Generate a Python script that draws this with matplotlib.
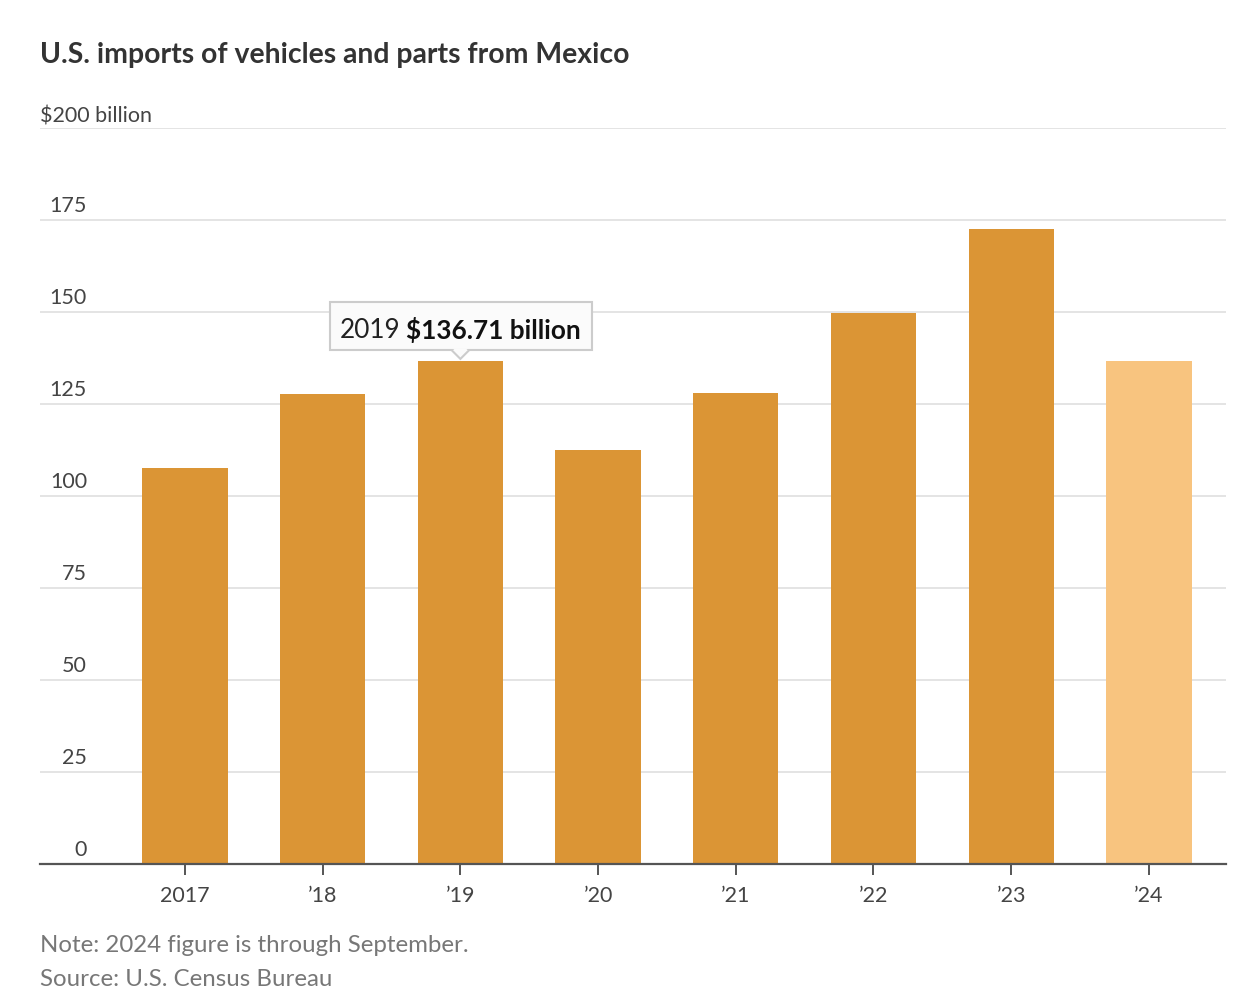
import matplotlib
matplotlib.use('Agg')
import matplotlib.pyplot as plt
from matplotlib import transforms
from matplotlib.patches import Rectangle, Polygon

# Podaci (procijenjeni sa slike)
godine = ['2017', '\u201918', '\u201919', '\u201920', '\u201921', '\u201922', '\u201923', '\u201924']
vrijednosti = [107.5, 127.6, 136.71, 112.4, 128.1, 149.8, 172.5, 136.6]
boje = ['#DB9535'] * 7 + ['#F8C47F']
y_ticks = [0, 25, 50, 75, 100, 125, 150, 175, 200]

plt.rcParams['font.family'] = ['Lato', 'DejaVu Sans']

fig = plt.figure(figsize=(12.48, 10.08), dpi=100)
ax = fig.add_axes([40 / 1248, 144 / 1008, 1186 / 1248, 736 / 1008])

x = list(range(len(godine)))
ax.bar(x, vrijednosti, width=0.62, color=boje, zorder=2)

ax.set_ylim(0, 200)
ax.set_xlim(-1.053, 7.56)

# mreza
for v in y_ticks[1:]:
    ax.axhline(v, color='#e2e2e2', linewidth=1.3, zorder=1)

for s in ['top', 'right', 'left']:
    ax.spines[s].set_visible(False)
ax.spines['bottom'].set_color('#555555')
ax.spines['bottom'].set_linewidth(1.6)
ax.spines['bottom'].set_zorder(3)

ax.set_yticks([])
ax.set_xticks(x)
ax.set_xticklabels(godine, fontsize=15.5, color='#444444')
ax.tick_params(axis='x', length=8, width=1.4, color='#555555', pad=8)

# y oznake iznad linija
blend = transforms.blended_transform_factory(ax.transAxes, ax.transData)
for v in y_ticks:
    if v == 200:
        ax.text(0.0, v + 0.5, '$200 billion', transform=blend, ha='left', va='bottom',
                fontsize=15.5, color='#444444')
    else:
        ax.text(0.0396, v + 1.2, str(v), transform=blend, ha='right', va='bottom',
                fontsize=15.5, color='#444444')

# tooltip za 2019 (u pikselima oko vrha stupca)
idx = 2
val = vrijednosti[idx]
ident = transforms.IdentityTransform()
anchor = ax.transData.transform((idx, val))
rect = Rectangle((anchor[0] - 130, anchor[1] + 11), 262, 48, transform=ident,
                 facecolor='#fbfbfb', edgecolor='#cccccc', linewidth=1.5, zorder=5)
ax.add_patch(rect)
tri = Polygon([(anchor[0] - 9, anchor[1] + 11), (anchor[0], anchor[1] + 2),
               (anchor[0] + 9, anchor[1] + 11)], closed=False, transform=ident,
              facecolor='#fbfbfb', edgecolor='#cccccc', linewidth=1.5, zorder=5)
ax.add_patch(tri)
tri_fill = Polygon([(anchor[0] - 7.5, anchor[1] + 12.5), (anchor[0], anchor[1] + 4),
                    (anchor[0] + 7.5, anchor[1] + 12.5)], closed=True, transform=ident,
                   facecolor='#fbfbfb', edgecolor='none', zorder=6)
ax.add_patch(tri_fill)

t1 = ax.annotate('2019', xy=(idx, val), xytext=(-121 * 0.72, 23 * 0.72),
                 textcoords='offset points', ha='left', va='baseline',
                 fontsize=18.8, color='#222222', zorder=7, annotation_clip=False)
ax.annotate('$136.71 billion', xy=(1, 0), xycoords=t1, xytext=(4, 0),
            textcoords='offset points', ha='left', va='bottom',
            fontsize=18.8, fontweight='bold', color='#111111', zorder=7)

# naslov i biljeske
fig.text(40 / 1248, 1 - 55 / 1008, 'U.S. imports of vehicles and parts from Mexico',
         ha='left', va='center', fontsize=20.4, fontweight='bold', color='#333333')
fig.text(40 / 1248, 1 - 946 / 1008, 'Note: 2024 figure is through September.',
         ha='left', va='center', fontsize=17.3, color='#777777')
fig.text(40 / 1248, 1 - 980 / 1008, 'Source: U.S. Census Bureau',
         ha='left', va='center', fontsize=17.3, color='#777777')

fig.savefig('out.png', dpi=100, facecolor='white')
